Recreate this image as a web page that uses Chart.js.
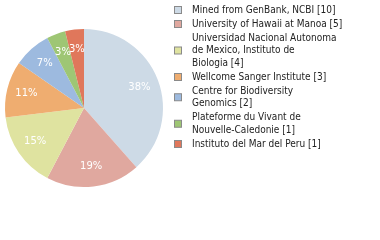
<!DOCTYPE html>
<html>
<head>
<meta charset="utf-8">
<script src="https://cdn.jsdelivr.net/npm/chart.js@4/dist/chart.umd.min.js"></script>
<style>
  html, body { margin: 0; padding: 0; background: #fff; }
  #wrap { width: 380px; height: 240px; position: relative; }
</style>
</head>
<body>
<div id="wrap"><canvas id="myChart" width="380" height="240"></canvas></div>
<script>
const labels = [
  "Mined from GenBank, NCBI [10]",
  "University of Hawaii at Manoa [5]",
  "Universidad Nacional Autonoma\nde Mexico, Instituto de\nBiologia [4]",
  "Wellcome Sanger Institute [3]",
  "Centre for Biodiversity\nGenomics [2]",
  "Plateforme du Vivant de\nNouvelle-Caledonie [1]",
  "Instituto del Mar del Peru [1]"
];
const counts = [10, 5, 4, 3, 2, 1, 1];
const colors = ["#cddae6", "#e0a89f", "#dfe3a0", "#efad70", "#9dbadf", "#9ec674", "#e0775b"];

const FONT = '"DejaVu Sans Condensed", "DejaVu Sans", sans-serif';

// percent labels on the slices (truncated, like the source)
const pctLabels = {
  id: 'pctLabels',
  afterDatasetsDraw(chart) {
    const ctx = chart.ctx;
    const meta = chart.getDatasetMeta(0);
    const total = counts.reduce((a, b) => a + b, 0);
    ctx.save();
    ctx.fillStyle = '#fff';
    ctx.font = '10px "DejaVu Sans", sans-serif';
    ctx.textAlign = 'center';
    ctx.textBaseline = 'middle';
    meta.data.forEach(function (arc, i) {
      const mid = (arc.startAngle + arc.endAngle) / 2;
      const r = arc.outerRadius * 0.75;
      const x = arc.x + Math.cos(mid) * r;
      const y = arc.y + Math.sin(mid) * r;
      ctx.fillText(Math.floor(counts[i] / total * 100) + '%', x, y);
    });
    ctx.restore();
  }
};

// legend drawn on the right with wrapped lines
const sideLegend = {
  id: 'sideLegend',
  afterDraw(chart) {
    const ctx = chart.ctx;
    ctx.save();
    ctx.font = '10px ' + FONT;
    ctx.textBaseline = 'middle';
    ctx.textAlign = 'left';
    let y = 10;
    labels.forEach(function (lab, i) {
      const lines = lab.split('\n');
      const h = (lines.length - 1) * 12.5;
      const boxY = y + h / 2 - 4;
      ctx.fillStyle = colors[i];
      ctx.fillRect(174.5, boxY + 0.5, 7, 7);
      ctx.strokeStyle = '#8a8a8a';
      ctx.lineWidth = 1;
      ctx.strokeRect(174.5, boxY + 0.5, 7, 7);
      ctx.fillStyle = '#222';
      lines.forEach(function (ln, k) {
        ctx.fillText(ln, 192, y + k * 12.5);
      });
      y += h + 14;
    });
    ctx.restore();
  }
};

new Chart(document.getElementById('myChart'), {
  type: 'pie',
  data: {
    labels: labels,
    datasets: [{
      data: counts,
      backgroundColor: colors,
      borderWidth: 0
    }]
  },
  options: {
    responsive: false,
    animation: false,
    layout: { padding: { left: 5, right: 217, top: 29, bottom: 53 } },
    plugins: {
      legend: { display: false },
      tooltip: { enabled: false }
    }
  },
  plugins: [pctLabels, sideLegend]
});
</script>
</body>
</html>
